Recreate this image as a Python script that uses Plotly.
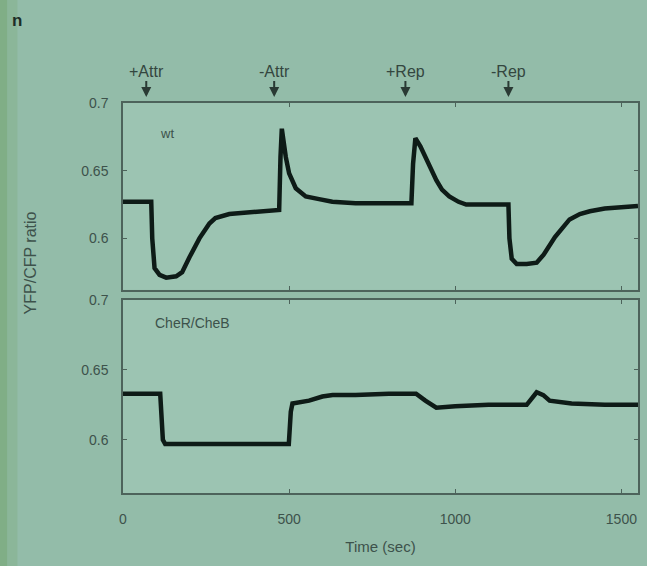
import plotly.graph_objects as go
from plotly.subplots import make_subplots

# ---- data ----
wt_time = [0, 85, 88, 95, 110, 130, 160, 178, 200, 230, 260, 278, 320, 380, 440, 470,
           474, 478, 490, 500, 520, 550, 590, 630, 700, 800, 868, 873, 880, 895, 912,
           930, 943, 960, 982, 1010, 1033, 1080, 1160, 1163, 1170, 1185, 1215, 1245,
           1266, 1300, 1344, 1375, 1405, 1450, 1500, 1550]
wt_ratio = [0.627, 0.627, 0.600, 0.578, 0.573, 0.571, 0.572, 0.575, 0.586, 0.600, 0.611,
            0.615, 0.618, 0.619, 0.620, 0.621, 0.660, 0.681, 0.660, 0.648, 0.637, 0.631,
            0.629, 0.627, 0.626, 0.626, 0.626, 0.655, 0.674, 0.668, 0.659, 0.650, 0.643,
            0.636, 0.631, 0.627, 0.625, 0.625, 0.625, 0.600, 0.585, 0.581, 0.581, 0.582,
            0.588, 0.601, 0.614, 0.618, 0.620, 0.622, 0.623, 0.624]

mut_time = [0, 112, 120, 127, 300, 499, 505, 510, 560, 600, 631, 700, 800, 882, 910,
            943, 1000, 1100, 1215, 1245, 1265, 1284, 1350, 1450, 1550]
mut_ratio = [0.633, 0.633, 0.600, 0.597, 0.597, 0.597, 0.620, 0.626, 0.628, 0.631, 0.632,
             0.632, 0.633, 0.633, 0.628, 0.623, 0.624, 0.625, 0.625, 0.634, 0.632, 0.628,
             0.626, 0.625, 0.625]

event_labels = ["+Attr", "-Attr", "+Rep", "-Rep"]
event_times = [70, 455, 850, 1160]

panel_labels = ["wt", "CheR/CheB"]
x_ticks = [0, 500, 1000, 1500]
x_tick_text = ["0", "500", "1000", "1500"]
y_ticks = [0.6, 0.65, 0.7]
y_tick_text = ["0.6", "0.65", "0.7"]

# ---- styling ----
bg = "#93bca9"
plot_bg = "#9cc4b2"
ink = "#0e1b17"
axis_col = "#4d635b"
text_col = "#3d524b"
font_fam = "Liberation Sans, Arial, sans-serif"

fig = make_subplots(rows=2, cols=1, shared_xaxes=False, vertical_spacing=0.03)

fig.add_trace(go.Scatter(x=wt_time, y=wt_ratio, mode="lines",
                         line=dict(color=ink, width=4.5), showlegend=False), row=1, col=1)
fig.add_trace(go.Scatter(x=mut_time, y=mut_ratio, mode="lines",
                         line=dict(color=ink, width=4.5), showlegend=False), row=2, col=1)

axis_common = dict(showline=True, mirror="ticks", linecolor=axis_col, linewidth=1.5,
                   ticks="inside", ticklen=4, tickcolor=axis_col, showgrid=False,
                   zeroline=False, tickfont=dict(size=14, color=text_col, family=font_fam))

fig.update_xaxes(range=[0, 1550], tickvals=x_ticks, **axis_common)
fig.update_xaxes(showticklabels=False, row=1, col=1)
fig.update_xaxes(ticktext=x_tick_text, ticklabelstandoff=12, row=2, col=1,
                 title=dict(text="Time (sec)", font=dict(size=15, color=text_col, family=font_fam),
                            standoff=16))
fig.update_yaxes(range=[0.562, 0.7], tickvals=y_ticks, ticktext=y_tick_text,
                 ticklabelstandoff=10, **axis_common)

fig.update_layout(
    width=647, height=566,
    margin=dict(l=123, r=7, t=103, b=73),
    paper_bgcolor=bg, plot_bgcolor=plot_bg,
    font=dict(family=font_fam, color=text_col),
)
fig.update_layout(yaxis=dict(domain=[0.521, 1.0]), yaxis2=dict(domain=[0.0, 0.495]))

# left greenish edge from the photo
fig.add_shape(type="rect", xref="paper", yref="paper", x0=-0.25, x1=-0.225, y0=-0.2, y1=1.3,
              fillcolor="#78a878", line=dict(width=0), opacity=0.7, layer="below")
fig.add_shape(type="rect", xref="paper", yref="paper", x0=-0.225, x1=-0.205, y0=-0.2, y1=1.3,
              fillcolor="#84b08a", line=dict(width=0), opacity=0.5, layer="below")

# event arrows
for lab, t in zip(event_labels, event_times):
    fig.add_annotation(x=t, xref="x", y=1.0, yref="paper", yshift=6, text=lab,
                       showarrow=True, arrowhead=2, arrowsize=1, arrowwidth=2,
                       arrowcolor="#2a3a34", ax=0, ay=-26,
                       font=dict(size=16, color="#33463f", family=font_fam))

# panel labels
fig.add_annotation(x=0.068, xref="paper", y=0.945, yref="paper", text=panel_labels[0],
                   showarrow=False, xanchor="left", font=dict(size=13, color=text_col))
fig.add_annotation(x=0.058, xref="paper", y=0.435, yref="paper", text=panel_labels[1],
                   showarrow=False, xanchor="left", font=dict(size=14, color=text_col))

# y-axis title (shared)
fig.add_annotation(x=-0.2, xref="paper", y=0.59, yref="paper", text="YFP/CFP ratio",
                   textangle=-90, showarrow=False,
                   font=dict(size=16, color=text_col, family=font_fam))

# panel letter
fig.add_annotation(x=-0.22, xref="paper", y=1.24, yref="paper", text="<b>n</b>",
                   showarrow=False, xanchor="left",
                   font=dict(size=17, color="#1d2d27", family=font_fam))

fig.write_html("out.html", config={"displayModeBar": False},
               post_script="document.body.style.margin='0';")
